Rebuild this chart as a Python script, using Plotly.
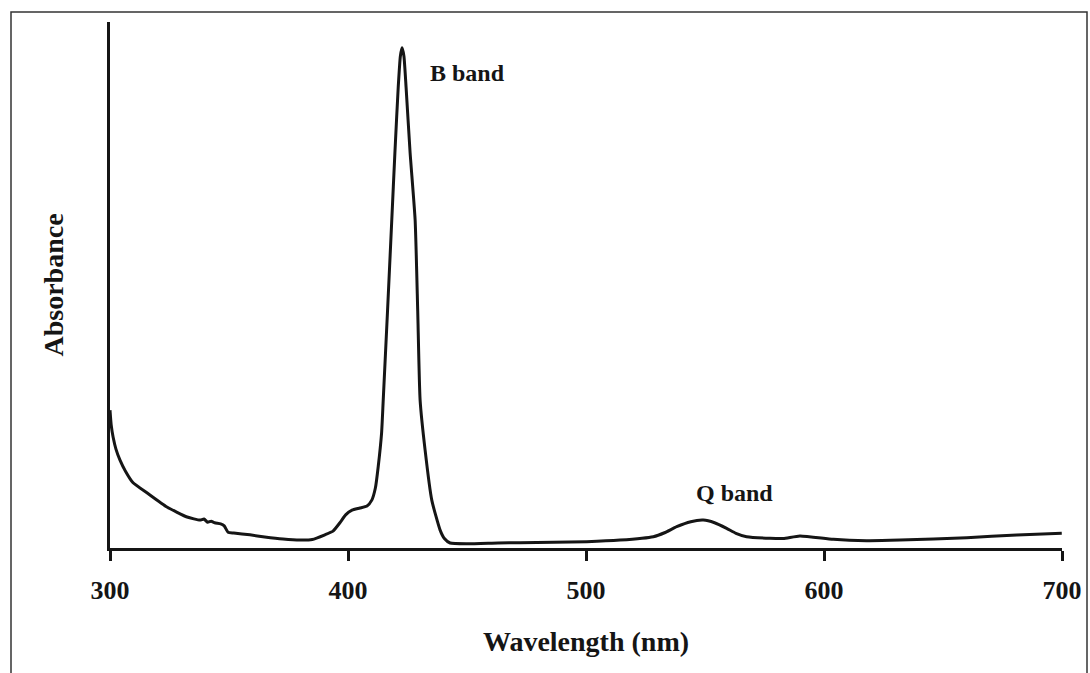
import plotly.graph_objects as go

wavelength = [300.0, 300.5, 301.3, 302.5, 304.2, 306.5, 309.7, 315.5, 323.9, 332.4,
              337.8, 339.5, 341.0, 342.5, 344.0, 346.5, 348.0, 349.6, 352.0, 358.8,
              365.0, 372.7, 379.8, 385.0, 390.3, 393.7, 396.6, 399.0, 401.7, 405.0,
              408.0, 410.0, 411.5, 412.7, 414.1, 414.8, 416.6, 418.4, 419.7, 421.1,
              422.0, 422.7, 423.5, 424.4, 426.1, 428.2, 429.3, 430.3, 432.4, 435.2,
              438.7, 440.5, 442.9, 450.0, 463.0, 472.3, 500.3, 514.3, 528.3, 533.0,
              538.1, 544.0, 549.3, 554.0, 559.1, 563.0, 567.5, 577.3, 582.9, 589.9,
              603.9, 617.9, 631.9, 660.0, 681.0, 699.9]
absorbance = [0.262, 0.234, 0.211, 0.188, 0.167, 0.146, 0.124, 0.105, 0.078, 0.059,
              0.053, 0.055, 0.049, 0.051, 0.048, 0.046, 0.042, 0.030, 0.0285, 0.025,
              0.021, 0.017, 0.015, 0.016, 0.025, 0.032, 0.048, 0.063, 0.072, 0.076,
              0.080, 0.091, 0.114, 0.155, 0.218, 0.281, 0.45, 0.624, 0.751, 0.876,
              0.935, 0.951, 0.935, 0.876, 0.751, 0.624, 0.45, 0.281, 0.186, 0.091,
              0.034, 0.018, 0.0095, 0.008, 0.0095, 0.010, 0.012, 0.015, 0.0215, 0.029,
              0.0405, 0.050, 0.053, 0.048, 0.0374, 0.028, 0.0215, 0.0184, 0.018, 0.023,
              0.0165, 0.014, 0.015, 0.0196, 0.0247, 0.028]

tick_vals = [300, 400, 500, 600, 700]
tick_text = ["300", "400", "500", "600", "700"]

FONT = "Liberation Serif"
INK = "#151515"

fig = go.Figure()
fig.add_trace(go.Scatter(
    x=wavelength, y=absorbance, mode="lines",
    line=dict(color=INK, width=3, shape="spline", smoothing=0.5),
    showlegend=False, hoverinfo="skip"))

fig.add_annotation(x=450, y=0.903, text="<b>B band</b>", showarrow=False,
                   font=dict(family=FONT, size=24, color=INK))
fig.add_annotation(x=562.6, y=0.105, text="<b>Q band</b>", showarrow=False,
                   font=dict(family=FONT, size=24, color=INK))

# outer frame around the figure
fig.add_shape(type="rect", xref="paper", yref="paper",
              x0=(11 - 110) / 952, x1=(1087 - 110) / 952,
              y0=(548 - 690) / 526, y1=(548 - 12) / 526,
              line=dict(color="#333333", width=1.5), fillcolor="rgba(0,0,0,0)")

fig.update_layout(
    width=1090, height=673,
    margin=dict(l=110, r=28, t=22, b=125, autoexpand=False),
    paper_bgcolor="white", plot_bgcolor="white",
    font=dict(family=FONT, color=INK),
    xaxis=dict(
        range=[300, 700], tickmode="array", tickvals=tick_vals, ticktext=tick_text,
        ticks="outside", ticklen=10, tickwidth=3, tickcolor=INK,
        showline=True, linecolor=INK, linewidth=3, showgrid=False, zeroline=False,
        automargin=False,
        tickfont=dict(family=FONT, size=26, color=INK, weight="bold"),
        ticklabelstandoff=7,
        title=dict(text="<b>Wavelength (nm)</b>", standoff=28,
                   font=dict(family=FONT, size=28, color=INK)),
    ),
    yaxis=dict(
        range=[0, 1], showticklabels=False, ticks="",
        showline=True, linecolor=INK, linewidth=3, showgrid=False, zeroline=False,
        automargin=False,
        title=dict(text="<b>Absorbance</b>", standoff=36,
                   font=dict(family=FONT, size=28, color=INK)),
    ),
)

fig.write_html("out.html")
